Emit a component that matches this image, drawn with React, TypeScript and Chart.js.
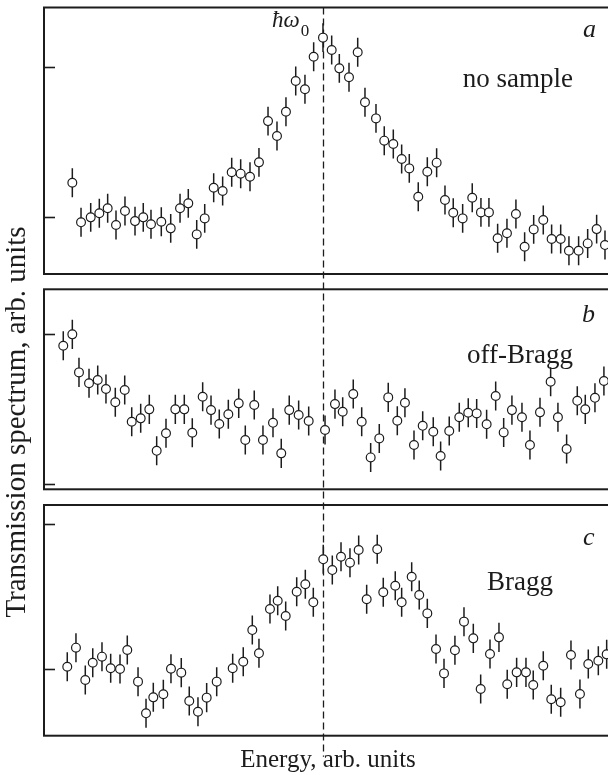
import React, { useEffect, useRef } from "react";
import { Chart, registerables } from "chart.js";

Chart.register(...registerables);

// ---------- data (energy in arb. units, ħω0 at 0; signal in arb. units) ----------
const ENERGY_A = [
  -28.23, -27.25, -26.16, -25.19, -24.25, -23.31, -22.3, -21.17, -20.24, -19.37,
  -18.21, -17.15, -16.1, -15.17, -14.22, -13.32, -12.31, -11.3, -10.28, -9.27,
  -8.22, -7.21, -6.19, -5.18, -4.17, -3.07, -2.03, -1.05, 0.0, 0.98,
  1.84, 2.93, 3.91, 4.73, 5.97, 6.9, 7.92, 8.86, 9.72, 10.73,
  11.75, 12.8, 13.74, 14.67, 15.73, 16.81, 17.79, 18.69, 19.67, 20.72,
  21.73, 22.71, 23.73, 24.81, 25.75, 26.77, 27.7, 28.79, 29.81, 30.82, 31.76,
];
const SIGNAL_A = [
  1.23, 0.967, 1.0, 1.027, 1.06, 0.949, 1.042, 0.975, 1.0, 0.954,
  0.971, 0.927, 1.06, 1.093, 0.887, 0.993, 1.197, 1.175, 1.299, 1.29,
  1.27, 1.365, 1.639, 1.54, 1.701, 1.905, 1.85, 2.066, 2.193, 2.111,
  1.989, 1.93, 2.096, 1.764, 1.657, 1.509, 1.487, 1.387, 1.325, 1.137,
  1.303, 1.363, 1.115, 1.031, 0.993, 1.13, 1.033, 1.033, 0.861, 0.894,
  1.022, 0.805, 0.92, 0.982, 0.856, 0.856, 0.778, 0.778, 0.827, 0.922, 0.816,
];

const ENERGY_B = [
  -29.25, -28.23, -27.48, -26.35, -25.37, -24.44, -23.39, -22.33, -21.54, -20.53,
  -19.56, -18.73, -17.68, -16.63, -15.62, -14.72, -13.55, -12.61, -11.68, -10.66,
  -9.49, -8.75, -7.74, -6.76, -5.63, -4.7, -3.8, -2.74, -1.61, 0.23,
  1.35, 2.22, 3.41, 4.36, 5.37, 6.34, 7.35, 8.37, 9.23, 10.25,
  11.23, 12.42, 13.25, 14.22, 15.35, 16.36, 17.31, 18.43, 19.45, 20.35,
  21.28, 22.41, 23.31, 24.44, 25.64, 26.46, 27.44, 28.64, 29.54, 30.63, 31.64,
];
const SIGNAL_B = [
  1.924, 2.0, 1.746, 1.673, 1.695, 1.635, 1.546, 1.628, 1.416, 1.439,
  1.499, 1.222, 1.339, 1.499, 1.499, 1.343, 1.583, 1.494, 1.401, 1.466,
  1.539, 1.294, 1.528, 1.294, 1.409, 1.205, 1.494, 1.461, 1.421, 1.361,
  1.534, 1.483, 1.601, 1.416, 1.178, 1.305, 1.579, 1.423, 1.543, 1.261,
  1.389, 1.349, 1.187, 1.354, 1.446, 1.476, 1.472, 1.399, 1.588, 1.345,
  1.494, 1.446, 1.261, 1.479, 1.683, 1.446, 1.234, 1.556, 1.499, 1.576, 1.688,
];

const ENERGY_C = [
  -28.8, -27.82, -26.77, -25.93, -24.89, -23.91, -22.86, -22.04, -20.83, -19.93,
  -19.11, -17.98, -17.12, -15.96, -15.06, -14.08, -13.1, -11.97, -10.17, -8.98,
  -7.96, -7.21, -5.97, -5.1, -4.2, -2.96, -1.99, -1.09, 0.03, 1.05,
  2.03, 3.04, 4.02, 4.92, 6.11, 6.79, 8.14, 8.86, 9.99, 10.84,
  11.75, 12.73, 13.63, 14.86, 15.88, 16.93, 17.76, 18.81, 19.82, 20.75,
  21.81, 22.86, 23.68, 24.81, 25.71, 26.77, 27.93, 28.94, 29.88, 31.01, 31.95,
];
const SIGNAL_C = [
  1.018, 1.149, 0.926, 1.045, 1.087, 1.007, 1.002, 1.133, 0.915, 0.697,
  0.807, 0.828, 1.004, 0.977, 0.782, 0.708, 0.805, 0.915, 1.007, 1.052,
  1.27, 1.11, 1.415, 1.472, 1.367, 1.534, 1.585, 1.461, 1.757, 1.683,
  1.775, 1.734, 1.821, 1.482, 1.826, 1.53, 1.575, 1.461, 1.637, 1.511,
  1.385, 1.14, 0.972, 1.131, 1.328, 1.213, 0.864, 1.105, 1.22, 0.897,
  0.979, 0.979, 0.892, 1.025, 0.794, 0.773, 1.098, 0.83, 1.036, 1.059, 1.103,
];

// error bar half-widths
const ERR_A = 0.096;
const ERR_B = 0.097;
const ERR_C = 0.1;

const TICK_VALUES = [1, 2];
const PANEL_LETTERS = ["a", "b", "c"];
const PANEL_NAMES = ["no sample", "off-Bragg", "Bragg"];
const Y_TITLE = "Transmission spectrum, arb. units";
const X_TITLE = "Energy, arb. units";
const RESONANCE_LABEL = "ħω";
const RESONANCE_SUB = "0";
const RESONANCE_ENERGY = 0;

// ---------- layout / style ----------
const W = 612;
const H = 775;
const SERIF = "'Liberation Serif', 'Times New Roman', serif";
const INK = "#1c1c1c";

const PANELS = [
  {
    id: "ya", energy: ENERGY_A, signal: SIGNAL_A, err: ERR_A,
    min: 0.624, max: 2.393, weight: 266.5, order: 50,
    letter: { x: 29.28, y: 2.199 }, name: { x: 21.96, y: 1.863 },
  },
  {
    id: "yb", energy: ENERGY_B, signal: SIGNAL_B, err: ERR_B,
    min: 0.965, max: 2.301, weight: 200, order: 30,
    letter: { x: 29.17, y: 2.084 }, name: { x: 22.18, y: 1.806 },
  },
  {
    id: "yc", energy: ENERGY_C, signal: SIGNAL_C, err: ERR_C,
    min: 0.543, max: 2.131, weight: 230.7, order: 10,
    letter: { x: 29.28, y: 1.855 }, name: { x: 22.18, y: 1.546 },
  },
];
const GAPS = [
  { id: "g1", weight: 15.3, order: 40 },
  { id: "g2", weight: 15.7, order: 20 },
];

const hidden = {
  ticks: { display: false },
  grid: { display: false, drawTicks: false },
  border: { display: false },
};

const panelPlugin = {
  id: "panelDecor",
  beforeDatasetsDraw(chart: any) {
    const ctx = chart.ctx;
    const xs = chart.scales.x;
    const x = Math.round(xs.getPixelForValue(RESONANCE_ENERGY)) + 0.5;
    ctx.save();
    ctx.strokeStyle = INK;
    ctx.lineWidth = 1.3;
    ctx.setLineDash([7, 4]);
    ctx.beginPath();
    ctx.moveTo(x, chart.scales.ya.top);
    ctx.lineTo(x, chart.scales.yc.bottom + 21);
    ctx.stroke();
    ctx.restore();
  },
  afterDraw(chart: any) {
    const ctx = chart.ctx;
    const area = chart.chartArea;
    const xs = chart.scales.x;
    ctx.save();
    ctx.strokeStyle = INK;
    ctx.fillStyle = INK;
    PANELS.forEach((p, k) => {
      const s = chart.scales[p.id];
      // frame
      ctx.lineWidth = 2;
      ctx.setLineDash([]);
      ctx.strokeRect(area.left, s.top, area.right - area.left, s.bottom - s.top);
      // inward ticks
      ctx.lineWidth = 1.6;
      s.ticks.forEach((t: any) => {
        const y = Math.round(s.getPixelForValue(t.value)) + 0.5;
        ctx.beginPath();
        ctx.moveTo(area.left, y);
        ctx.lineTo(area.left + 11, y);
        ctx.stroke();
      });
      // panel letter
      ctx.font = `italic 26px ${SERIF}`;
      ctx.textAlign = "left";
      ctx.textBaseline = "alphabetic";
      ctx.fillText(PANEL_LETTERS[k], xs.getPixelForValue(p.letter.x), s.getPixelForValue(p.letter.y));
      // panel name
      ctx.font = `27px ${SERIF}`;
      ctx.textAlign = "center";
      ctx.fillText(PANEL_NAMES[k], xs.getPixelForValue(p.name.x), s.getPixelForValue(p.name.y));
    });

    // ħω0 label
    const sa = chart.scales.ya;
    const lx = xs.getPixelForValue(-5.74);
    const ly = sa.getPixelForValue(2.266);
    ctx.font = `italic 23px ${SERIF}`;
    ctx.textAlign = "left";
    ctx.fillText(RESONANCE_LABEL, lx, ly);
    const w = ctx.measureText(RESONANCE_LABEL).width;
    ctx.font = `17px ${SERIF}`;
    ctx.fillText(RESONANCE_SUB, lx + w + 1, ly + 9);

    // axis titles
    ctx.font = `25px ${SERIF}`;
    ctx.textAlign = "center";
    ctx.fillText(X_TITLE, (area.left + area.right) / 2, 767);

    ctx.translate(17, 422);
    ctx.rotate(-Math.PI / 2);
    ctx.font = `29px ${SERIF}`;
    ctx.textBaseline = "middle";
    ctx.fillText(Y_TITLE, 0, 0);
    ctx.restore();
  },
};

export default function App() {
  const ref = useRef<HTMLCanvasElement | null>(null);

  useEffect(() => {
    if (!ref.current) return;
    const datasets: any[] = [];
    PANELS.forEach((p) => {
      datasets.push({
        type: "scatter",
        yAxisID: p.id,
        data: p.energy.map((e, i) => ({ x: e, y: p.signal[i] })),
        showLine: false,
        pointRadius: 4.4,
        pointHoverRadius: 4.4,
        pointBackgroundColor: "#ffffff",
        pointBorderColor: INK,
        pointBorderWidth: 1.2,
        order: 0,
      });
      datasets.push({
        type: "bar",
        yAxisID: p.id,
        data: p.energy.map((e, i) => ({ x: e, y: [p.signal[i] - p.err, p.signal[i] + p.err] })),
        backgroundColor: INK,
        borderWidth: 0,
        barThickness: 1.5,
        inflateAmount: 0,
        grouped: false,
        order: 1,
      });
    });

    const scales: any = {
      x: {
        type: "linear",
        position: "bottom",
        min: -31.42,
        max: 32.55,
        offset: false,
        ...hidden,
        grid: { display: false, drawTicks: false, offset: false },
      },
    };
    PANELS.forEach((p) => {
      scales[p.id] = {
        type: "linear",
        position: "left",
        stack: "panels",
        stackWeight: p.weight,
        weight: p.order,
        min: p.min,
        max: p.max,
        beginAtZero: false,
        ...hidden,
        afterBuildTicks: (s: any) => {
          s.ticks = TICK_VALUES.map((v) => ({ value: v }));
        },
      };
    });
    GAPS.forEach((g) => {
      scales[g.id] = {
        type: "linear",
        position: "left",
        stack: "panels",
        stackWeight: g.weight,
        weight: g.order,
        min: 0,
        max: 1,
        ...hidden,
      };
    });

    const chart = new Chart(ref.current, {
      type: "scatter",
      data: { datasets },
      options: {
        responsive: false,
        animation: false,
        devicePixelRatio: 1,
        events: [],
        layout: { autoPadding: false, padding: { left: 44, top: 7.5, right: 0, bottom: 39.3 } },
        plugins: { legend: { display: false }, tooltip: { enabled: false }, title: { display: false } },
        scales,
      },
      plugins: [panelPlugin],
    } as any);
    return () => chart.destroy();
  }, []);

  return (
    <div style={{ position: "absolute", left: 0, top: 0, width: 608, height: H, overflow: "hidden", background: "#fff" }}>
      <canvas ref={ref} width={W} height={H} style={{ width: W, height: H, display: "block" }} />
    </div>
  );
}
